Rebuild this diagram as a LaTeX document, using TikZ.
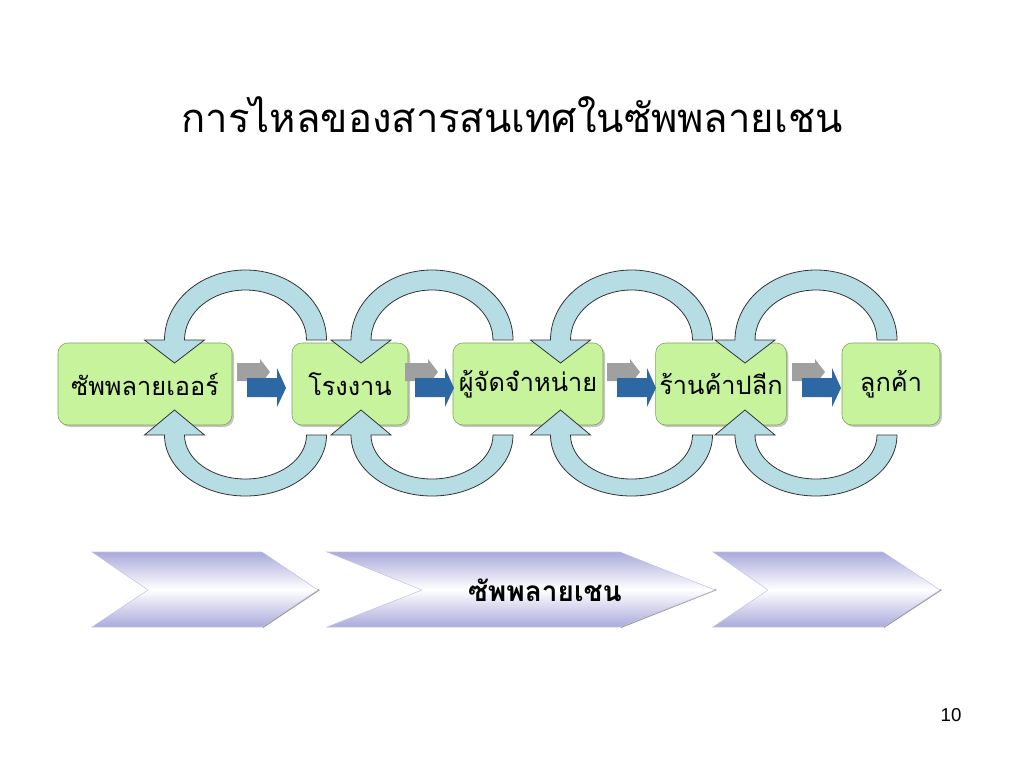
\documentclass[tikz,border=0pt]{standalone}
\usepackage{fontspec}
\usetikzlibrary{shadows}
\newfontfamily\thaifont[Script=Thai]{Loma}
\newfontfamily\pagefont{Liberation Sans}

\definecolor{boxgreen}{RGB}{198,243,155}
\definecolor{boxedge}{RGB}{125,160,95}
\definecolor{loopblue}{RGB}{183,221,228}
\definecolor{flowblue}{RGB}{46,104,164}
\definecolor{flowgray}{RGB}{160,160,160}
\definecolor{lavender}{RGB}{170,170,220}

\tikzset{
  stage/.style={draw=boxedge, fill=boxgreen, rounded corners=7.5pt,
    minimum height=61.5pt, inner sep=0pt,
    drop shadow={shadow xshift=1.5pt, shadow yshift=-1.5pt, fill=black!45},
    font=\thaifont\fontsize{19}{22}\selectfont},
  infoloop/.style={draw=black!80, fill=loopblue, line width=0.6pt},
  chevron/.style={draw=lavender!70, line width=0.4pt,
    top color=lavender, bottom color=lavender, middle color=white},
}

% upper loop: head at the left box, tail at the right box
\newcommand{\toploop}[1]{%
  \draw[infoloop] ({#1+81},340) arc[start angle=0, end angle=-180, x radius=81, y radius=70]
    -- ({#1-101},340) -- ({#1-71},363) -- ({#1-41},340) -- ({#1-61},340)
    arc[start angle=-180, end angle=0, x radius=61, y radius=50] -- cycle;}
% lower loop
\newcommand{\bottomloop}[1]{%
  \draw[infoloop] ({#1+81},435) arc[start angle=0, end angle=180, x radius=81, y radius=61]
    -- ({#1-101},435) -- ({#1-71},410) -- ({#1-41},435) -- ({#1-61},435)
    arc[start angle=180, end angle=0, x radius=61, y radius=44] -- cycle;}
% small flow arrow with its grey shadow
\newcommand{\flowarrow}[1]{%
  \fill[flowgray] ({#1-10},363) -- ({#1+13},363) -- ({#1+13},359) -- ({#1+23},372)
    -- ({#1+13},385) -- ({#1+13},381) -- ({#1-10},381) -- cycle;
  \fill[flowblue] (#1,378) -- ({#1+30},378) -- ({#1+30},368) -- ({#1+39},388)
    -- ({#1+30},407) -- ({#1+30},397) -- (#1,397) -- cycle;}

\begin{document}
\begin{tikzpicture}[x=0.75pt, y=-0.75pt]
	\useasboundingbox (0,0) rectangle (1024,768);
	
	\node[font=\thaifont\fontsize{30}{34}\selectfont] (title) at (512,115) {การไหลของสารสนเทศในซัพพลายเชน};
	
	\node[stage, minimum width=130.5pt] (sup) at (145,384) {ซัพพลายเออร์};
	\node[stage, minimum width=87pt]    (fac) at (350,384) {โรงงาน};
	\node[stage, minimum width=112.5pt] (dis) at (528,384) {ผู้จัดจำหน่าย};
	\node[stage, minimum width=98pt]    (ret) at (721,384) {ร้านค้าปลีก};
	\node[stage, minimum width=73.5pt]  (cus) at (891,384) {ลูกค้า};
	
	\flowarrow{247}
	\flowarrow{415}
	\flowarrow{617}
	\flowarrow{802}
	
	\toploop{245.5}
	\toploop{432}
	\toploop{631.5}
	\toploop{816}
	\bottomloop{245.5}
	\bottomloop{432}
	\bottomloop{631.5}
	\bottomloop{816}
	
	\fill[black!40] (263,628) -- (320,590) -- (318,589) -- (262,626) -- cycle;
	\fill[black!40] (621,628) -- (717,590) -- (715,589) -- (620,626) -- cycle;
	\fill[black!40] (884,628) -- (942,590) -- (940,589) -- (883,626) -- cycle;
	\draw[chevron] (92,552) -- (262,552) -- (318,590) -- (262,627) -- (92,627) -- (148,590) -- cycle;
	\draw[chevron] (327,552) -- (620,552) -- (715,590) -- (620,627) -- (327,627) -- (422,590) -- cycle;
	\draw[chevron] (713,552) -- (883,552) -- (940,590) -- (883,627) -- (713,627) -- (768,590) -- cycle;
	\node[font=\thaifont\bfseries\fontsize{21}{24}\selectfont] (chain) at (545,590) {ซัพพลายเชน};
	
	\node[font=\pagefont\fontsize{14}{16}\selectfont] (page) at (951,715) {10};
	
\end{tikzpicture}
\end{document}
